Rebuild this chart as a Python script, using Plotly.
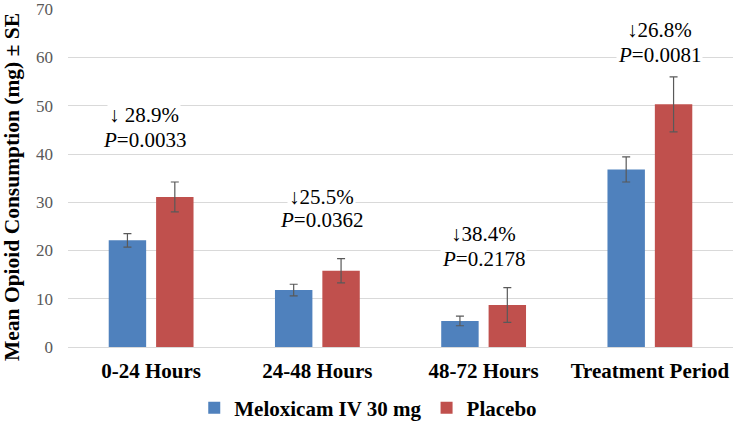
import plotly.graph_objects as go

categories = ["0-24 Hours", "24-48 Hours", "48-72 Hours", "Treatment Period"]
meloxicam = [22.1, 11.8, 5.4, 36.8]
meloxicam_se = [1.4, 1.2, 1.0, 2.6]
placebo = [31.1, 15.8, 8.7, 50.3]
placebo_se = [3.1, 2.5, 3.6, 5.7]
pct_labels = ["↓ 28.9%", "↓25.5%", "↓38.4%", "↓26.8%"]
p_labels = ["0.0033", "0.0362", "0.2178", "0.0081"]
pct_y = [48.0, 31.0, 23.4, 65.6]
p_y = [42.9, 26.3, 18.3, 60.6]
label_shift = [-7, 4, 0, 10]
y_ticks = [0, 10, 20, 30, 40, 50, 60, 70]
y_title = "Mean Opioid Consumption (mg) ± SE"

SERIF = "Liberation Serif"

fig = go.Figure()
fig.add_trace(go.Bar(
    x=categories, y=meloxicam, name="Meloxicam IV 30 mg",
    marker=dict(color="#4F81BD", line=dict(width=0)),
    error_y=dict(type="data", array=meloxicam_se, color="#595959", thickness=1.2, width=4),
))
fig.add_trace(go.Bar(
    x=categories, y=placebo, name="Placebo",
    marker=dict(color="#C0504D", line=dict(width=0)),
    error_y=dict(type="data", array=placebo_se, color="#595959", thickness=1.2, width=4),
))

annotations = []
for i, c in enumerate(categories):
    annotations.append(dict(
        x=c, y=pct_y[i], xref="x", yref="y", text=pct_labels[i], showarrow=False,
        xshift=label_shift[i], font=dict(family=SERIF, size=21, color="#000000"),
        bgcolor="white", borderpad=1,
    ))
    annotations.append(dict(
        x=c, y=p_y[i], xref="x", yref="y", text="<i>P</i>=" + p_labels[i], showarrow=False,
        xshift=label_shift[i], font=dict(family=SERIF, size=21, color="#000000"),
        bgcolor="white", borderpad=1,
    ))
annotations.append(dict(
    x=-(68 - 12) / 665, y=(347 - 187) / 338, xref="paper", yref="paper",
    xanchor="center", yanchor="middle", textangle=-90, showarrow=False,
    text=y_title, font=dict(family=SERIF, size=21.5, color="#000000", weight="bold"),
))

fig.update_layout(
    width=735, height=423,
    margin=dict(l=68, r=2, t=9, b=76, autoexpand=False),
    paper_bgcolor="white", plot_bgcolor="white",
    barmode="group", bargap=0.43, bargroupgap=0.21,
    font=dict(family=SERIF, color="#000000"),
    showlegend=True,
    legend=dict(
        orientation="h", x=0.4515, xanchor="center",
        yref="container", y=(423 - 408) / 423, yanchor="middle",
        font=dict(family=SERIF, size=21, color="#000000", weight="bold"),
        itemwidth=30, traceorder="normal",
    ),
    annotations=annotations,
    xaxis=dict(
        tickfont=dict(family=SERIF, size=21, color="#000000", weight="bold"),
        showline=False, ticks="", showgrid=False, automargin=False,
        ticklabelstandoff=9,
    ),
    yaxis=dict(
        range=[0, 70.05], tickvals=y_ticks, automargin=False,
        tickfont=dict(family=SERIF, size=17, color="#595959"),
        showgrid=True, gridcolor="#d9d9d9", gridwidth=1,
        zeroline=True, zerolinecolor="#d9d9d9", zerolinewidth=1,
        showline=False, ticks="", ticklabelstandoff=14,
    ),
)

fig.write_html("out.html", config={"displayModeBar": False},
               post_script="document.body.style.margin='0';")
